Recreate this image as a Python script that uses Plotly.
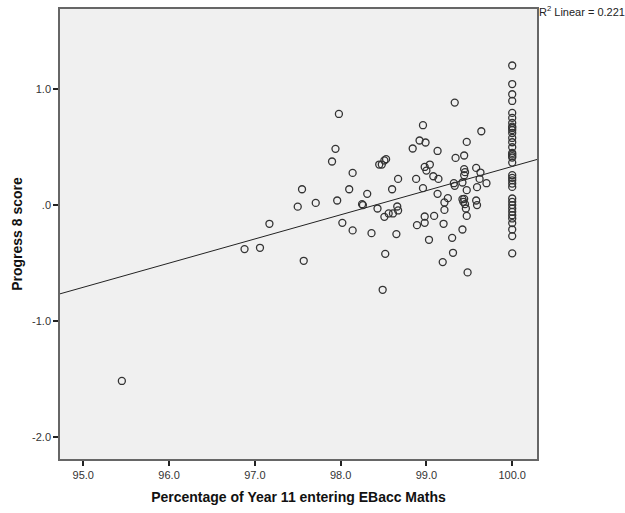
import numpy as np
import plotly.graph_objects as go

# Percentage of Year 11 entering EBacc Maths (x) and Progress 8 score (y)
pct_scattered = [
    95.45, 96.88, 97.06, 97.17, 97.50, 97.55, 97.57, 97.71,
    97.90, 97.94, 97.98, 97.96, 98.02, 98.10, 98.14, 98.14, 98.25, 98.26,
    98.31, 98.36, 98.43, 98.45, 98.48, 98.51, 98.53, 98.49,
    98.51, 98.56, 98.61, 98.52, 98.60, 98.65, 98.66, 98.67, 98.67,
    98.84, 98.88, 98.89, 98.92, 98.96, 98.99, 98.96, 98.98, 98.98, 98.98,
    99.00, 99.03, 99.04, 99.08, 99.09, 99.13, 99.13, 99.14, 99.19, 99.20,
    99.21, 99.21, 99.25, 99.30, 99.31, 99.32, 99.33, 99.33, 99.34,
    99.42, 99.42, 99.42, 99.44, 99.44, 99.45, 99.44, 99.44, 99.43, 99.45,
    99.46, 99.47, 99.47, 99.47, 99.48, 99.58, 99.58, 99.59, 99.59, 99.62,
    99.63, 99.64, 99.70,
]
p8_scattered = [
    -1.513, -0.376, -0.365, -0.158, -0.010, 0.140, -0.477, 0.022,
    0.379, 0.488, 0.789, 0.043, -0.150, 0.140, 0.281, -0.215, 0.011, 0.003,
    0.100, -0.239, -0.026, 0.353, 0.353, 0.388, 0.399, -0.727,
    -0.098, -0.069, -0.069, -0.417, 0.140, -0.247, -0.009, -0.043, 0.229,
    0.491, 0.229, -0.170, 0.560, 0.692, 0.543, 0.149, -0.095, -0.150, 0.332,
    0.301, -0.296, 0.353, 0.252, -0.090, 0.470, 0.100, 0.229, -0.488, -0.158,
    0.026, -0.038, 0.063, -0.279, -0.408, 0.192, 0.169, 0.887, 0.410,
    0.054, -0.207, 0.198, 0.431, 0.313, 0.287, 0.261, 0.057, 0.031, 0.011,
    -0.026, 0.548, 0.132, -0.090, -0.577, 0.324, 0.043, 0.003, 0.158, 0.229,
    0.284, 0.640, 0.192,
]
# Schools with 100% entering EBacc Maths
p8_full_entry = [
    1.207, 1.047, 0.959, 0.901, 0.798, 0.755, 0.711, 0.680, 0.668, 0.650,
    0.625, 0.582, 0.545, 0.502, 0.453, 0.440, 0.425, 0.413, 0.370,
    0.261, 0.238, 0.217, 0.189, 0.160, 0.060, 0.031, 0.003, -0.026,
    -0.055, -0.084, -0.112, -0.152, -0.207, -0.264, -0.413,
]
pct_full_entry = [100.0] * len(p8_full_entry)

x_vals = np.array(pct_scattered + pct_full_entry)
y_vals = np.array(p8_scattered + p8_full_entry)

x_ticks = [95, 96, 97, 98, 99, 100]
x_tick_text = ["95.0", "96.0", "97.0", "98.0", "99.0", "100.0"]
y_ticks = [-2, -1, 0, 1]
y_tick_text = ["-2.0", "-1.0", ".0", "1.0"]
r2_label = "R<sup>2</sup> Linear = 0.221"

x_range = [94.729, 100.289]
y_range = [-2.186, 1.694]

slope, intercept = np.polyfit(x_vals, y_vals, 1)
line_x = np.array(x_range)
line_y = intercept + slope * line_x

fig = go.Figure()
fig.add_trace(go.Scatter(
    x=line_x, y=line_y, mode="lines",
    line=dict(color="#222222", width=1), hoverinfo="skip", showlegend=False,
))
fig.add_trace(go.Scatter(
    x=x_vals, y=y_vals, mode="markers",
    marker=dict(symbol="circle-open", size=7, color="#333333", line=dict(width=1.3)),
    showlegend=False,
))

font_family = "Liberation Sans, Arial, sans-serif"
fig.update_layout(
    width=625, height=513,
    margin=dict(l=60, r=87.5, t=8.7, b=53.7),
    paper_bgcolor="white", plot_bgcolor="#f0f0f0",
    font=dict(family=font_family, size=11, color="#333333"),
    xaxis=dict(
        range=x_range, tickvals=x_ticks, ticktext=x_tick_text,
        showgrid=False, zeroline=False, automargin=False,
        showline=True, linecolor="#666666", linewidth=1.5, mirror=True,
        ticks="outside", ticklen=5, tickcolor="#222222", tickwidth=1.5,
        tickfont=dict(size=11, color="#333333"),
        title=dict(text="<b>Percentage of Year 11 entering EBacc Maths</b>",
                   font=dict(size=14, color="#111111"), standoff=12),
    ),
    yaxis=dict(
        range=y_range, tickvals=y_ticks, ticktext=y_tick_text,
        showgrid=False, zeroline=False, automargin=False,
        showline=True, linecolor="#666666", linewidth=1.5, mirror=True,
        ticks="outside", ticklen=5, tickcolor="#222222", tickwidth=1.5,
        tickfont=dict(size=11, color="#333333"),
        title=dict(text="<b>Progress 8 score</b>",
                   font=dict(size=14, color="#111111"), standoff=6),
    ),
    annotations=[dict(
        text=r2_label, xref="paper", yref="paper", x=1, y=1,
        xanchor="left", yanchor="middle", xshift=0, yshift=-2, showarrow=False,
        font=dict(size=11, color="#222222"),
    )],
)

fig.write_html(
    "out.html",
    config={"displayModeBar": False},
    post_script="document.body.style.margin='0';document.body.style.overflow='hidden';",
)
